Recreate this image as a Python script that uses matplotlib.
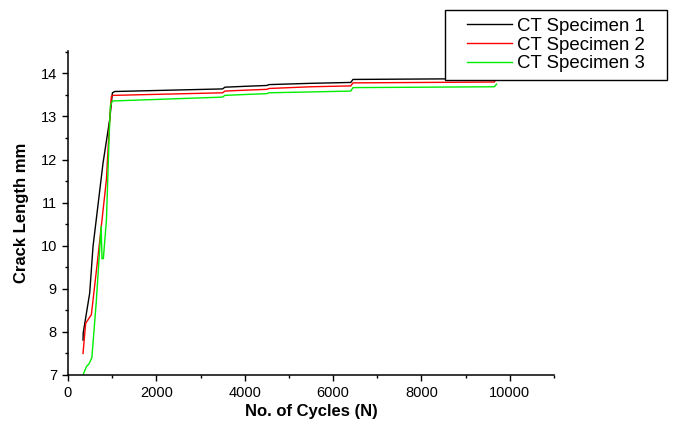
import matplotlib
matplotlib.use("Agg")
import matplotlib.pyplot as plt
from matplotlib.patches import Rectangle
from matplotlib.ticker import MultipleLocator

plt.rcParams['font.family'] = ['Liberation Sans', 'DejaVu Sans']

# crack length (mm) vs. number of cycles
cycles_1 = [340, 345, 491, 566, 793, 944, 1005, 1057, 3500, 3550, 4000, 4500, 4550, 5500, 6400, 6450, 9700]
crack_1 = [7.81, 7.98, 8.90, 9.98, 11.92, 12.93, 13.55, 13.58, 13.64, 13.68, 13.70, 13.72, 13.74, 13.77, 13.79, 13.86, 13.88]

cycles_2 = [340, 400, 529, 679, 869, 944, 982, 1020, 3500, 3550, 4000, 4500, 4550, 5500, 6400, 6450, 9650, 9700]
crack_2 = [7.50, 8.20, 8.40, 9.75, 11.53, 12.93, 13.47, 13.49, 13.55, 13.59, 13.61, 13.63, 13.65, 13.69, 13.71, 13.78, 13.80, 13.87]

cycles_3 = [340, 420, 470, 540, 640, 750, 770, 800, 870, 930, 960, 1005, 3500, 3550, 4000, 4500, 4550, 5500, 6400, 6450, 9650, 9700]
crack_3 = [7.00, 7.20, 7.25, 7.40, 8.70, 10.45, 9.70, 9.70, 10.60, 12.50, 13.25, 13.36, 13.45, 13.49, 13.51, 13.53, 13.55, 13.57, 13.59, 13.67, 13.69, 13.75]

labels = ["CT Specimen 1", "CT Specimen 2", "CT Specimen 3"]
colors = ["black", "#ff0000", "#00ee00"]

W, H = 677, 421
fig = plt.figure(figsize=(W / 100, H / 100), dpi=100)
ax = fig.add_axes([68 / W, 46 / H, 486 / W, 324 / H])

for xs, ys, lab, col in zip([cycles_1, cycles_2, cycles_3], [crack_1, crack_2, crack_3], labels, colors):
    ax.plot(xs, ys, color=col, lw=1.0, label=lab)

ax.set_xlim(0, 11000)
ax.set_ylim(7, 14.52)
ax.xaxis.set_major_locator(MultipleLocator(2000))
ax.xaxis.set_minor_locator(MultipleLocator(1000))
ax.yaxis.set_major_locator(MultipleLocator(1))
ax.yaxis.set_minor_locator(MultipleLocator(0.5))

for side in ["top", "right"]:
    ax.spines[side].set_visible(False)
for side in ["left", "bottom"]:
    ax.spines[side].set_linewidth(1.1)

ax.tick_params(which="major", direction="out", length=4, width=1, labelsize=10.5, pad=4)
ax.tick_params(which="minor", direction="out", length=2.5, width=1)

ax.set_xlabel("No. of Cycles (N)", fontsize=12, fontweight="bold", labelpad=3)
ax.set_ylabel("Crack Length mm", fontsize=12, fontweight="bold", labelpad=8)

# legend box drawn separately so it can have wider side margins
box = Rectangle((445 / W, 1 - 80 / H), 222 / W, 70 / H, transform=fig.transFigure,
                facecolor="white", edgecolor="black", lw=1.0, zorder=5)
fig.patches.append(box)
leg = fig.legend(loc="center", bbox_to_anchor=(556 / W, 1 - 45 / H),
                 fontsize=13.4, frameon=False, handlelength=2.4,
                 handletextpad=0.28, labelspacing=0.1, borderpad=0, borderaxespad=0)
leg.set_zorder(6)

fig.savefig("out.png", dpi=100)
